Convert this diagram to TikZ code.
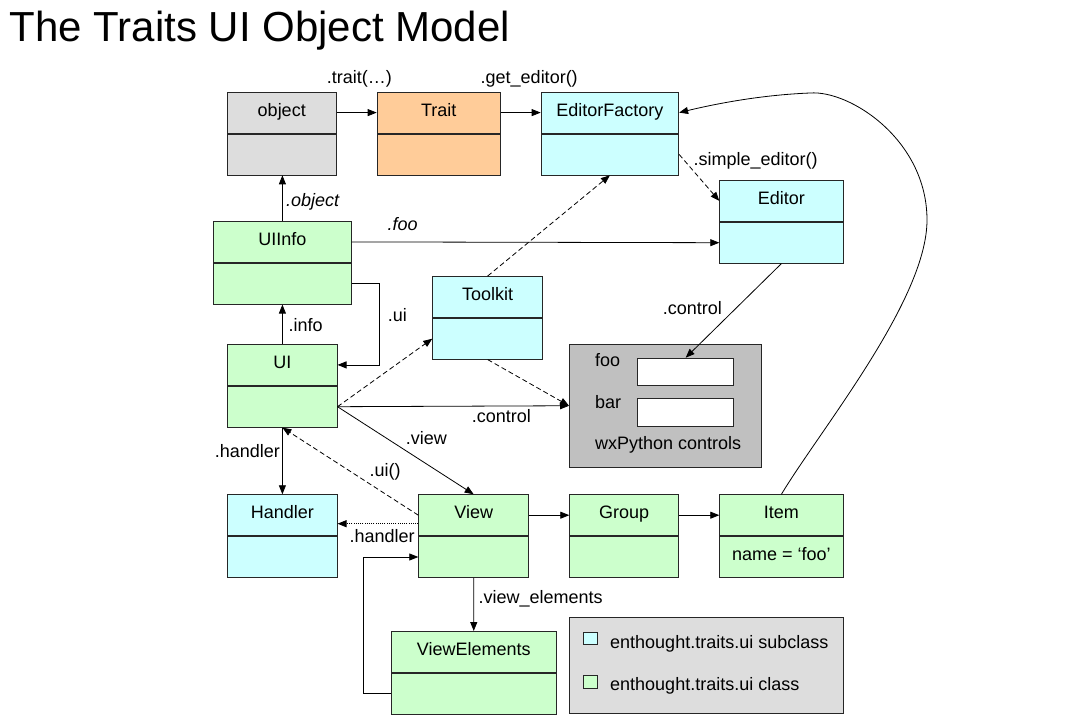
\documentclass[tikz,border=0pt]{standalone}
\usepackage{fontspec}
\setmainfont{Liberation Sans}
\usetikzlibrary{arrows.meta,calc}
\definecolor{cgrey}{HTML}{DDDDDD}
\definecolor{corange}{HTML}{FFCC99}
\definecolor{ccyan}{HTML}{CCFFFF}
\definecolor{cgreen}{HTML}{CCFFCC}
\definecolor{cwx}{HTML}{C0C0C0}
\definecolor{cborder}{HTML}{262626}
\newcommand\lblfont{\fontsize{18}{21}\selectfont}
\newcommand\umlclass[7]{%
  \node[hdrbox,fill=#5,minimum width=#4] (#1) at (#2,#3) {#6};
  \node[bodybox,fill=#5,minimum width=#4] (#1-b) at (#1.south) {#7};}
\begin{document}
\begin{tikzpicture}[x=1pt,y=-1pt,
  hdrbox/.style={draw=cborder,line width=0.8pt,minimum height=41pt,inner sep=0pt,
    anchor=north west,text height=12.5pt,text depth=5.5pt,font=\lblfont},
  bodybox/.style={draw=cborder,line width=0.8pt,minimum height=41pt,inner sep=0pt,
    anchor=north,text height=12.5pt,text depth=5.5pt,font=\lblfont},
  lbl/.style={font=\lblfont,inner sep=0pt,anchor=base west},
  arr/.style={-{Triangle[length=9pt,width=7pt]},line width=0.8pt},
  dasharr/.style={arr,dash pattern=on 5pt off 3pt},
  dotarr/.style={arr,dash pattern=on 1pt off 1.2pt},
  field/.style={draw=cborder,line width=0.8pt,fill=white,anchor=north west,inner sep=0pt}]
\useasboundingbox (0,0) rectangle (1085,717);

\node[anchor=base west,inner sep=0pt,font=\fontsize{42}{49}\selectfont] (title) at (9.5,41.5) {The Traits UI Object Model};

% classes
\umlclass{object}{226.7}{91.7}{109.3}{cgrey}{object}{}
\umlclass{trait}{376.7}{91.7}{123.3}{corange}{Trait}{}
\umlclass{ef}{540.7}{91.7}{137.6}{ccyan}{EditorFactory}{}
\umlclass{editor}{719.3}{180}{123.4}{ccyan}{Editor}{}
\umlclass{uiinfo}{213.3}{221}{137.4}{cgreen}{UIInfo}{}
\umlclass{toolkit}{432.3}{276}{110}{ccyan}{Toolkit}{}
\umlclass{ui}{227.3}{344}{109.4}{cgreen}{UI}{}
\umlclass{handler}{227.3}{494.3}{109.4}{ccyan}{Handler}{}
\umlclass{view}{418.3}{494.3}{110}{cgreen}{View}{}
\umlclass{group}{569.3}{494.3}{109}{cgreen}{Group}{}
\umlclass{item}{719.3}{494.3}{123.4}{cgreen}{Item}{name = ‘foo’}
\umlclass{ve}{391}{631}{164.7}{cgreen}{ViewElements}{}

% wxPython controls
\node[draw=cborder,line width=0.8pt,fill=cwx,anchor=north west,minimum width=191.7pt,minimum height=122.7pt,inner sep=0pt] (wx) at (569,344) {};
\node[field,minimum width=96pt,minimum height=27.3pt] (foofield) at (637.3,357.7) {};
\node[field,minimum width=96pt,minimum height=27.7pt] (barfield) at (637.3,398.3) {};
\node[lbl] (foolbl) at (595,366.7) {foo};
\node[lbl] (barlbl) at (595,408.3) {bar};
\node[lbl] (wxlbl) at (595,449.3) {wxPython controls};

% legend
\node[draw=cborder,line width=0.8pt,fill=cgrey,anchor=north west,minimum width=273.4pt,minimum height=96.3pt,inner sep=0pt] (legend) at (569.3,616.7) {};
\node[draw=cborder,line width=0.8pt,fill=ccyan,anchor=north west,minimum width=14pt,minimum height=12.6pt,inner sep=0pt] (legc) at (582.7,631.7) {};
\node[draw=cborder,line width=0.8pt,fill=cgreen,anchor=north west,minimum width=14pt,minimum height=12.6pt,inner sep=0pt] (legg) at (582.7,675) {};
\node[lbl] (legctext) at (610,648.3) {enthought.traits.ui subclass};
\node[lbl] (leggtext) at (610,690.7) {enthought.traits.ui class};

% connectors
\draw[arr] (object) -- (trait);
\node[lbl] (l1) at (326.7,84) {.trait(…)};
\draw[arr] (trait) -- (ef);
\node[lbl] (l2) at (480.5,84) {.get\_editor()};

\draw[arr] (item.north) .. controls (820,430) and (927,300) .. (927,220)
  .. controls (927,140) and (850,90) .. (810,93)
  .. controls (760,95) and (715,104) .. (ef.east);

\draw[dasharr] (ef-b.east) -- (editor.west);
\node[lbl] (l3) at (693.3,165) {.simple\_editor()};

\draw[arr] (uiinfo.east) -- (editor-b.west);
\node[lbl] (l4) at (387.3,230) {\itshape .foo};

\draw[arr] (uiinfo.north) -- (uiinfo.north |- object-b.south);
\node[lbl] (l5) at (286,206.7) {\itshape .object};

\draw[arr] (ui.north) -- (ui.north |- uiinfo-b.south);
\node[lbl] (l6) at (288.3,331) {.info};

\draw[arr] (uiinfo-b.east) -- ++(27.6,0) |- (ui.east);
\node[lbl] (l7) at (387.7,321.7) {.ui};

\draw[dasharr] (toolkit.north) -- (ef-b.south);
\draw[dasharr] (ui-b.east) -- (toolkit-b.west);
\draw[dasharr] (toolkit-b.south) -- (wx.west);
\draw[arr] (ui-b.east) -- (wx.west);
\node[lbl] (l8) at (471.7,422.7) {.control};

\draw[arr] (editor-b.south) -- (foofield.north);
\node[lbl] (l9) at (662.7,314) {.control};

\draw[arr] (ui-b.east) -- (view.north);
\node[lbl] (l10) at (405.7,444.3) {.view};

\draw[dasharr] (view.west) -- (ui-b.south);
\node[lbl] (l11) at (369.3,476.7) {.ui()};

\draw[arr] (ui-b.south) -- (handler.north);
\node[lbl,anchor=base east] (l12) at (280,457.7) {.handler};

\coordinate (vh) at ($(view.west)+(0,8.5)$);
\draw[dotarr] (vh) -- (vh -| handler.east);
\node[lbl] (l13) at (349.3,542.7) {.handler};

\draw[arr] (view) -- (group);
\draw[arr] (group) -- (item);

\draw[arr] (view-b.south) -- (ve.north);
\node[lbl] (l14) at (478.3,603.3) {.view\_elements};

\draw[arr] (ve-b.west) -- ++(-27.7,0) |- (view-b.west);
\end{tikzpicture}
\end{document}
